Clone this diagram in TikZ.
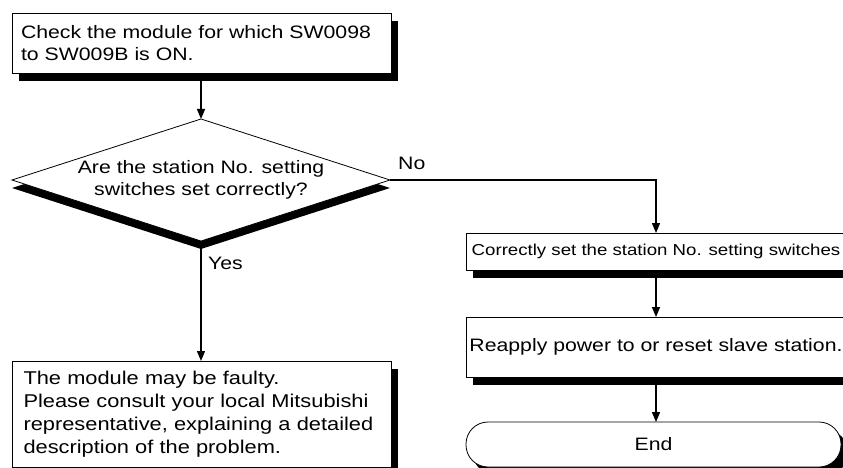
\documentclass[tikz,border=0pt]{standalone}
\usepackage{fontspec}
\setmainfont{Liberation Sans}[FakeStretch=1.18]
\usetikzlibrary{shapes.geometric,shadows,arrows.meta}
\newcommand\fsmain{\fontsize{18}{22.5}\selectfont}
\newcommand\fslong{\fontsize{18.5}{23}\selectfont}
\newcommand\fssmall{\fontsize{15.8}{18}\selectfont}
\begin{document}
\begin{tikzpicture}[x=1pt,y=-1pt,
  box/.style={draw, line width=0.8pt, fill=white, inner sep=0pt, outer sep=0pt,
    drop shadow={shadow xshift=7pt, shadow yshift=-8pt, fill=black, opacity=1}},
  dia/.style={shape=diamond, draw, line width=0.8pt, fill=white, inner sep=0pt, outer sep=0pt,
    aspect=3.1, minimum width=378pt, minimum height=122pt,
    drop shadow={shadow xshift=0pt, shadow yshift=-8pt, fill=black, opacity=1}},
  conn/.style={line width=1.3pt, -{Triangle[length=10pt,width=8pt]}},
  lbl/.style={font=\fsmain, inner sep=0pt}]
\fill[white] (0,0) rectangle (843,468);
\useasboundingbox (0,0) rectangle (843,468);
\clip (0,0) rectangle (843,468);

\node[box, minimum width=379pt, minimum height=60pt, text width=361pt, align=left, font=\fsmain]
  (top) at (201.5,43) {Check the module for which SW0098\\to SW009B is ON.};
\node[dia, font=\fsmain, align=center] (dia) at (201,180)
  {Are the station No. setting\\switches set correctly?};
\node[box, minimum width=379pt, minimum height=106pt, text width=356pt, align=left, font=\fslong]
  (fault) at (201.5,414) {The module may be faulty.\\Please consult your local Mitsubishi\\representative, explaining a detailed\\description of the problem.};

\node[box, minimum width=380pt, minimum height=37pt, font=\fssmall] (set) at (656,251.5)
  {Correctly set the station No. setting switches};
\node[box, minimum width=380pt, minimum height=60pt, font=\fsmain] (reap) at (656,347)
  {Reapply power to or reset slave station.};
\node[box, rounded corners=22pt, minimum width=375pt, minimum height=45pt, font=\fsmain] (end) at (653.5,444.5)
  {End};

\draw[conn] (dia.north |- top.south) -- (dia.north);
\draw[conn] (dia.east) -| (set.north);
\draw[conn] (dia.south) -- (dia.south |- fault.north);
\draw[conn] (set.south) -- (reap.north);
\draw[conn] (reap.south) -- (reap.south |- end.north);

\node[lbl, anchor=west] (no) at (398,163) {No};
\node[lbl, anchor=west] (yes) at (208,263) {Yes};
\end{tikzpicture}
\end{document}
